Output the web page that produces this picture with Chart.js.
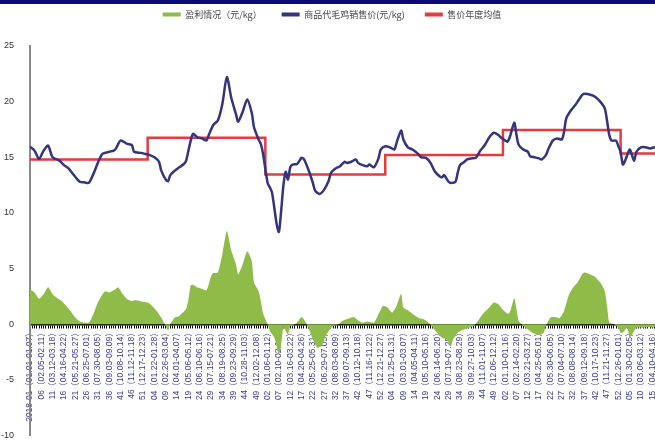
<!DOCTYPE html>
<html>
<head>
<meta charset="utf-8">
<script src="https://cdn.jsdelivr.net/npm/chart.js@4.4.1/dist/chart.umd.min.js"></script>
<style>
html, body { margin: 0; padding: 0; background: #fff; overflow: hidden; }
#wrap { position: relative; width: 655px; height: 440px; overflow: hidden; }
#faixa { position: absolute; left: 0; top: 0; width: 655px; height: 4px; background: #0b0b78; z-index: 2; }
#grafico { position: absolute; left: 0; top: 0; }
</style>
</head>
<body>
<div id="wrap">
    <div id="faixa"></div>
    <canvas id="grafico" width="668" height="449"></canvas>
</div>
<script>
// rotulos do eixo x, um a cada 5 semanas (semana 0 = 2018-01)
var tickLabels = [
    "2018-01（01.01-01.07）", "06（02.05-02.11）", "11（03.12-03.18）", "16（04.16-04.22）", "21（05.21-05.27）", "26（06.25-07.01）",
    "31（07.30-08.05）", "36（09.03-09.09）", "41（10.08-10.14）", "46（11.12-11.18）", "51（12.17-12.23）",
    "04（01.22-01.28）", "09（02.26-03.04）", "14（04.01-04.07）", "19（05.06-05.12）", "24（06.10-06.16）", "29（07.15-07.21）",
    "34（08.19-08.25）", "39（09.23-09.29）", "44（10.28-11.03）", "49（12.02-12.08）",
    "02（01.06-01.12）", "07（02.10-02.16）", "12（03.16-03.22）", "17（04.20-04.26）", "22（05.25-05.31）", "27（06.29-07.05）",
    "32（08.03-08.09）", "37（09.07-09.13）", "42（10.12-10.18）", "47（11.16-11.22）", "52（12.21-12.27）",
    "04（01.25-01.31）", "09（03.01-03.07）", "14（04.05-04.11）", "19（05.10-05.16）", "24（06.14-06.20）", "29（07.19-07.25）",
    "34（08.23-08.29）", "39（09.27-10.03）", "44（11.01-11.07）", "49（12.06-12.12）",
    "02（01.10-01.16）", "07（02.14-02.20）", "12（03.21-03.27）", "17（04.25-05.01）", "22（05.30-06.05）", "27（07.04-07.10）",
    "32（08.08-08.14）", "37（09.12-09.18）", "42（10.17-10.23）", "47（11.21-11.27）", "52（12.26-01.01）",
    "05（01.30-02.05）", "10（03.06-03.12）", "15（04.10-04.16）"
];

// 商品代毛鸡销售价 (semana, valor)
var priceWeek = [0, 2, 4, 6, 8, 10, 13, 15, 17, 19, 22, 24, 26, 28, 30, 32, 35, 37, 38, 40, 43, 45, 46, 49, 51, 53, 55, 57, 58, 60,
    61, 62, 64, 66, 68, 69, 70, 72, 74, 76, 78, 79, 81, 83, 85, 87, 89, 91, 92, 94, 96, 98, 99, 101, 102, 103, 105, 106, 107, 109,
    110, 111, 112, 113, 114, 115, 116, 118, 120, 121, 123, 125, 126, 128, 130, 132, 133, 135, 137, 139, 140, 142, 144, 145, 147, 149,
    150, 152, 154, 155, 157, 159, 161, 162, 164, 165, 167, 169, 171, 173, 175, 177, 179, 181, 182, 183, 185, 186, 188, 189, 190, 192,
    193, 195, 197, 199, 201, 203, 205, 207, 208, 210, 211, 212, 214, 215, 216, 218, 220, 221, 223, 225, 226, 228, 229, 231, 233, 235,
    236, 237, 239, 241, 242, 244, 245, 248, 250, 252, 254, 255, 256, 257, 259, 260, 261, 262, 263, 265, 266, 267, 268, 270, 272, 274,
    276, 277];
var priceValue = [15.95, 15.6, 14.85, 15.6, 16.05, 15.0, 14.7, 14.3, 14.0, 13.5, 12.8, 12.75, 12.7, 13.5, 14.5, 15.3, 15.5, 15.6, 15.8, 16.5,
    16.2, 16.1, 15.5, 15.4, 15.3, 15.2, 15.0, 14.6, 13.8, 13.0, 12.85, 13.4, 13.8, 14.1, 14.4, 14.7, 15.6, 17.1, 16.8, 16.7,
    16.5, 17.0, 17.9, 18.3, 19.8, 22.2, 20.3, 18.9, 18.2, 19.1, 20.2, 19.0, 17.7, 16.6, 16.2, 15.3, 12.7, 12.3, 11.8, 9.0,
    8.3, 10.2, 12.5, 13.7, 13.0, 14.1, 14.35, 14.4, 14.95, 14.85, 13.9, 12.7, 12.0, 11.7, 12.1, 12.9, 13.6, 14.0, 14.2, 14.6,
    14.5, 14.6, 14.8, 14.5, 14.3, 14.2, 14.35, 14.1, 14.9, 15.7, 16.0, 15.9, 15.7, 16.3, 17.4, 16.6, 15.9, 15.7, 15.4, 15.0,
    14.95, 14.5, 13.7, 13.3, 13.2, 13.4, 12.8, 12.7, 12.8, 13.6, 14.3, 14.6, 14.8, 14.9, 14.95, 15.6, 16.1, 16.8, 17.2, 17.0,
    16.8, 16.5, 16.4, 16.8, 18.1, 17.0, 16.1, 15.7, 15.5, 15.1, 15.0, 14.9, 14.8, 15.2, 15.7, 16.5, 16.7, 16.6, 17.3, 18.5,
    19.2, 19.7, 20.0, 20.6, 20.7, 20.6, 20.4, 20.0, 19.4, 18.3, 17.0, 16.5, 16.5, 16.0, 15.5, 14.35, 14.7, 15.7, 15.2, 14.7,
    15.5, 15.9, 15.9, 15.8, 15.9, 16.0];

// 盈利情况 (semana, valor)
var profitWeek = [0, 2, 4, 6, 7, 8, 10, 12, 14, 16, 18, 20, 22, 24, 26, 28, 30, 33, 35, 37, 39, 41, 43, 45, 47, 49, 52, 54, 56, 58,
    60, 61, 62, 64, 66, 69, 70, 71, 72, 74, 76, 78, 80, 81, 83, 85, 87, 89, 91, 92, 94, 96, 98, 99, 101, 102, 103, 105, 106, 108,
    110, 111, 112, 114, 115, 116, 118, 120, 121, 123, 125, 127, 129, 130, 132, 134, 136, 138, 140, 143, 145, 147, 149, 152, 154, 156,
    158, 160, 162, 164, 165, 167, 169, 172, 174, 176, 178, 180, 182, 184, 186, 187, 189, 192, 194, 196, 198, 200, 203, 205, 207, 209,
    211, 212, 214, 215, 216, 218, 220, 222, 225, 227, 228, 230, 232, 234, 236, 238, 240, 242, 244, 245, 248, 250, 252, 254, 255, 256,
    258, 260, 261, 262, 264, 265, 267, 268, 271, 273, 275, 277];
var profitValue = [3.15, 2.85, 2.3, 2.7, 3.05, 3.35, 2.7, 2.35, 2.1, 1.65, 1.15, 0.6, 0.25, 0.15, 0.15, 0.9, 1.95, 2.95, 2.85, 3.05,
    3.3, 2.7, 2.25, 2.1, 2.15, 2.05, 1.95, 1.65, 1.2, 0.6, -0.15, -0.55, 0, 0.6, 0.75, 1.4, 2.2, 3.5, 3.55, 3.3,
    3.2, 3.05, 4.3, 4.6, 4.65, 6.3, 8.4, 6.6, 5.4, 4.5, 5.4, 6.55, 5.7, 3.75, 3.0, 2.1, 1.0, 0, -0.6, -1.2,
    -2.7, -1.8, -0.3, -0.9, -0.15, -0.15, 0.15, 0.65, 0.45, -0.3, -1.35, -2.1, -1.95, -1.35, -0.6, -0.15, -0.05, 0.3, 0.45, 0.65,
    0.35, 0.15, 0.25, 0.15, 0.9, 1.65, 1.5, 1.05, 1.65, 2.75, 1.5, 1.25, 0.95, 0.55, 0.45, 0.15, -0.3, -0.75, -1.2, -1.35,
    -1.95, -1.35, -0.75, -0.45, -0.3, -0.15, 0.3, 0.9, 1.5, 1.95, 1.8, 1.3, 0.95, 1.05, 2.35, 1.35, 0.3, -0.15, -0.45, -0.75,
    -0.95, -0.75, -0.15, 0.6, 0.65, 0.55, 1.2, 2.55, 3.3, 3.75, 4.5, 4.65, 4.45, 4.2, 3.75, 3.0, 1.65, 0.15, 0, -0.3,
    -0.75, -0.75, -0.3, -1.2, -0.6, -0.3, -0.3, -0.25, -0.3, -0.15];

// 售价年度均值: inicio de cada ano (semana) e media do ano
var avgWeek = [0, 52, 104, 157, 209, 261, 277];
var avgValue = [14.8, 16.75, 13.45, 15.2, 17.45, 15.35, 15.35];

var cores = { lucro: '#8fbb48', preco: '#34347f', media: '#e63a3f' };
var fonteCjk = '"Noto Sans CJK SC", "Liberation Sans", sans-serif';
var fonteNum = 'Arial, "Liberation Sans", "Noto Sans CJK SC", sans-serif';

function pontos(semanas, valores) {
    var ret = [];
    for (var i = 0; i < semanas.length; i++) {
        ret.push({ x: semanas[i], y: valores[i] });
    }
    return ret;
}

// legenda mais alta para empurrar a area do grafico para baixo
var espacoLegenda = {
    id: 'espacoLegenda',
    beforeInit: function (chart) {
        var fitOrig = chart.legend.fit;
        chart.legend.fit = function () {
            fitOrig.call(this);
            this.height += 17;
        };
    }
};

var config = {
    type: 'line',
    data: {
        datasets: [{
            label: '盈利情况（元/kg）',
            data: pontos(profitWeek, profitValue),
            backgroundColor: cores.lucro,
            borderColor: cores.lucro,
            borderWidth: 0,
            fill: 'origin',
            pointRadius: 0,
            tension: 0.2
        }, {
            label: '商品代毛鸡销售价(元/kg)',
            data: pontos(priceWeek, priceValue),
            borderColor: cores.preco,
            backgroundColor: cores.preco,
            borderWidth: 2.5,
            fill: false,
            pointRadius: 0,
            tension: 0.25
        }, {
            label: '售价年度均值',
            data: pontos(avgWeek, avgValue),
            borderColor: cores.media,
            backgroundColor: cores.media,
            borderWidth: 2.5,
            fill: false,
            pointRadius: 0,
            stepped: true
        }]
    },
    options: {
        responsive: false,
        animation: false,
        devicePixelRatio: 1,
        layout: { padding: { top: -10, bottom: 0, left: 0, right: 4 } },
        plugins: {
            tooltip: { enabled: false },
            legend: {
                display: true,
                position: 'top',
                labels: {
                    boxWidth: 18,
                    boxHeight: 4,
                    padding: 20,
                    color: '#444',
                    font: { size: 9, family: fonteCjk },
                    generateLabels: function (chart) {
                        return chart.data.datasets.map(function (ds, i) {
                            return {
                                text: ds.label,
                                fillStyle: ds.borderColor,
                                strokeStyle: ds.borderColor,
                                lineWidth: 0,
                                hidden: false,
                                datasetIndex: i,
                                fontColor: '#444'
                            };
                        });
                    }
                }
            }
        },
        scales: {
            x: {
                type: 'linear',
                position: { y: 0 },
                min: 0,
                max: 277,
                border: { display: true, color: '#000', width: 1.5 },
                grid: { display: true, drawOnChartArea: false, drawTicks: true, tickLength: 3, color: '#000', lineWidth: 1 },
                ticks: {
                    stepSize: 1,
                    autoSkip: false,
                    minRotation: 90,
                    maxRotation: 90,
                    padding: 1,
                    color: '#3c3c8e',
                    font: { size: 8.5, family: fonteNum },
                    callback: function (v) {
                        if (v % 5 !== 0) return '';
                        return tickLabels[v / 5] || '';
                    }
                }
            },
            y: {
                min: -10,
                max: 25,
                border: { display: true, color: '#8a8a8a', width: 2 },
                grid: { display: false },
                ticks: {
                    stepSize: 5,
                    padding: 8,
                    color: '#333',
                    font: { size: 9, family: fonteNum }
                },
                afterFit: function (s) { s.width = 30; }
            }
        }
    },
    plugins: [espacoLegenda]
};

var grafico = new Chart(document.getElementById('grafico').getContext('2d'), config);
</script>
</body>
</html>
